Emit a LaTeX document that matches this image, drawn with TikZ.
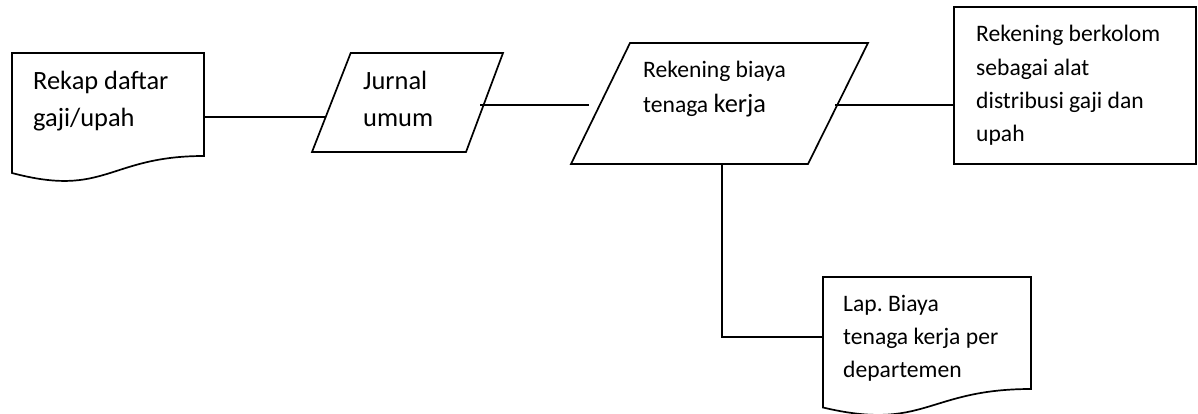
\documentclass[tikz,border=0pt]{standalone}
\usepackage{fontspec}
\setmainfont{Carlito}
\frenchspacing
\begin{document}
\begin{tikzpicture}[x=1pt,y=-1pt,
  shapeline/.style={draw=black,line width=1.7pt,line join=miter},
  link/.style={draw=black,line width=1.7pt},
  bigtxt/.style={anchor=base west,inner sep=0pt,font=\fontsize{26.4}{37}\selectfont},
  smalltxt/.style={anchor=base west,inner sep=0pt,font=\fontsize{23.6}{33.3}\selectfont}]
\useasboundingbox (0,0) rectangle (1198,414);

% payroll summary document
\draw[shapeline] (12,53) -- (204,53) -- (204,156)
  .. controls (108,156) and (106,198) .. (12,173) -- cycle;
\node[bigtxt] (rekap1) at (33,90) {Rekap daftar};
\node[bigtxt] (rekap2) at (33,127) {gaji/upah};

% general journal
\draw[shapeline] (350.7,53) -- (503,53) -- (466,152) -- (312,152) -- cycle;
\node[bigtxt] (jurnal1) at (363,90) {Jurnal};
\node[bigtxt] (jurnal2) at (363,127) {umum};

% labour cost account
\draw[shapeline] (630,43) -- (868,43) -- (808,164) -- (571,164) -- cycle;
\node[smalltxt] (biaya1) at (643,78) {Rekening biaya};
\node[smalltxt] (biaya2) at (643,113) {tenaga \fontsize{26.4}{37}\selectfont kerja};

% columnar account
\draw[shapeline] (954,7) rectangle (1196,164);
\node[smalltxt] (kolom1) at (976,42) {Rekening berkolom};
\node[smalltxt] (kolom2) at (976,75.3) {sebagai alat};
\node[smalltxt] (kolom3) at (976,108.6) {distribusi gaji dan};
\node[smalltxt] (kolom4) at (976,142) {upah};

% departmental report document
\draw[shapeline] (823,277) -- (1031,277) -- (1031,389)
  .. controls (927,389) and (925,431.7) .. (823,407.5) -- cycle;
\node[smalltxt] (lap1) at (843,311.7) {Lap. Biaya};
\node[smalltxt] (lap2) at (843,344.5) {tenaga kerja per};
\node[smalltxt] (lap3) at (843,377.3) {departemen};

% connector end points on the shape outlines
\coordinate (rekapR) at (204,117);
\coordinate (jurnalL) at (325.7,117);
\coordinate (jurnalR) at (480,105);
\coordinate (biayaL) at (589,105);
\coordinate (biayaR) at (835,105);
\coordinate (kolomL) at (954,105);
\coordinate (biayaB) at (722,164);
\coordinate (lapL) at (823,337);

\draw[link] (rekapR) -- (jurnalL);
\draw[link] (jurnalR) -- (biayaL);
\draw[link] (biayaR) -- (kolomL);
\draw[link] (biayaB) |- (lapL);
\end{tikzpicture}
\end{document}
